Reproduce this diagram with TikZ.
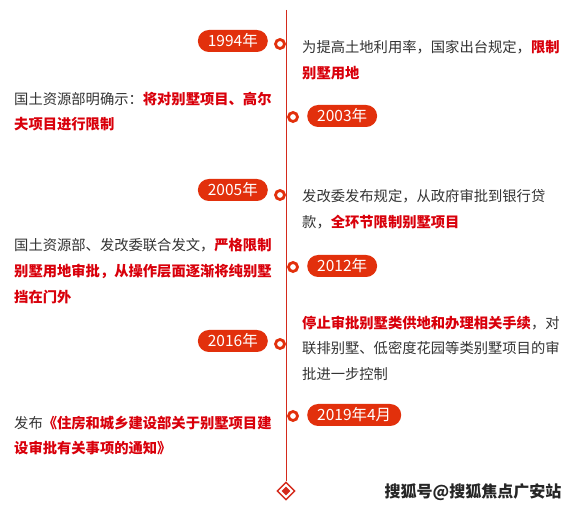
\documentclass[tikz,border=0pt]{standalone}
\usepackage{fontspec}
\setmainfont{Noto Sans CJK SC}
\usetikzlibrary{shapes.geometric}
\definecolor{pillred}{HTML}{E2300C}
\definecolor{hl}{HTML}{D9000B}
\definecolor{txt}{HTML}{333333}
\definecolor{linered}{HTML}{D42A1C}
\newcommand{\hlt}[1]{{\color{hl}\bfseries #1}}
\begin{document}
\begin{tikzpicture}[x=1pt,y=-1pt,
 pill/.style={fill=pillred, text=white, rounded corners=11pt, minimum height=22pt, inner xsep=10pt, inner ysep=0pt, font=\fontsize{15.5}{15.5}\selectfont},
 para/.style={anchor=north west, inner sep=0pt, align=left, text=txt, font=\fontsize{14.3}{25.6}\selectfont},
 dot/.style={circle, draw=pillred, fill=white, line width=2.8pt, minimum size=9pt, inner sep=0pt},
]
\useasboundingbox[fill=white] (0,0) rectangle (573,510);

% timeline
\coordinate (top) at (286,10);
\node[diamond, draw=linered, fill=white, line width=1.4pt, minimum size=18pt, inner sep=0pt] (end) at (286,491) {};
\node[diamond, fill=linered, minimum size=9pt, inner sep=0pt] (endin) at (286,491) {};
\draw[linered, line width=1pt] (top) -- (end.north);

% pills
\node[pill, anchor=east] (p1994) at (268,41) {1994年};
\node[pill, anchor=west] (p2003) at (307,116) {2003年};
\node[pill, anchor=east] (p2005) at (268,190) {2005年};
\node[pill, anchor=west] (p2012) at (307,266) {2012年};
\node[pill, anchor=east] (p2016) at (268,341) {2016年};
\node[pill, anchor=west] (p2019) at (307,415) {2019年4月};

% dots
\node[dot] (d1994) at (280,44) {};
\node[dot] (d2003) at (293,117) {};
\node[dot] (d2005) at (280,195) {};
\node[dot] (d2012) at (293,267) {};
\node[dot] (d2016) at (280,344) {};
\node[dot] (d2019) at (293,416) {};

% texts
\node[para] (t1994) at (302,40.5) {为提高土地利用率，国家出台规定，\hlt{限制}\\\hlt{别墅用地}};
\node[para] (t2003) at (14,91.5) {国土资源部明确示：\hlt{将对别墅项目、高尔}\\\hlt{夫项目进行限制}};
\node[para] (t2005) at (302,189.5) {发改委发布规定，从政府审批到银行贷\\款，\hlt{全环节限制别墅项目}};
\node[para] (t2012) at (14,238.5) {国土资源部、发改委联合发文，\hlt{严格限制}\\\hlt{别墅用地审批，从操作层面逐渐将纯别墅}\\\hlt{挡在门外}};
\node[para] (t2016) at (302,315.5) {\hlt{停止审批别墅类供地和办理相关手续}，对\\联排别墅、低密度花园等类别墅项目的审\\批进一步控制};
\node[para] (t2019) at (14,415.5) {发布\hlt{《住房和城乡建设部关于别墅项目建}\\\hlt{设审批有关事项的通知》}};

% watermark
\node[text=black!85, font=\fontsize{16}{16}\selectfont\bfseries, inner sep=0pt] (wm) at (473,492) {搜狐号@搜狐焦点广安站};
\end{tikzpicture}
\end{document}
